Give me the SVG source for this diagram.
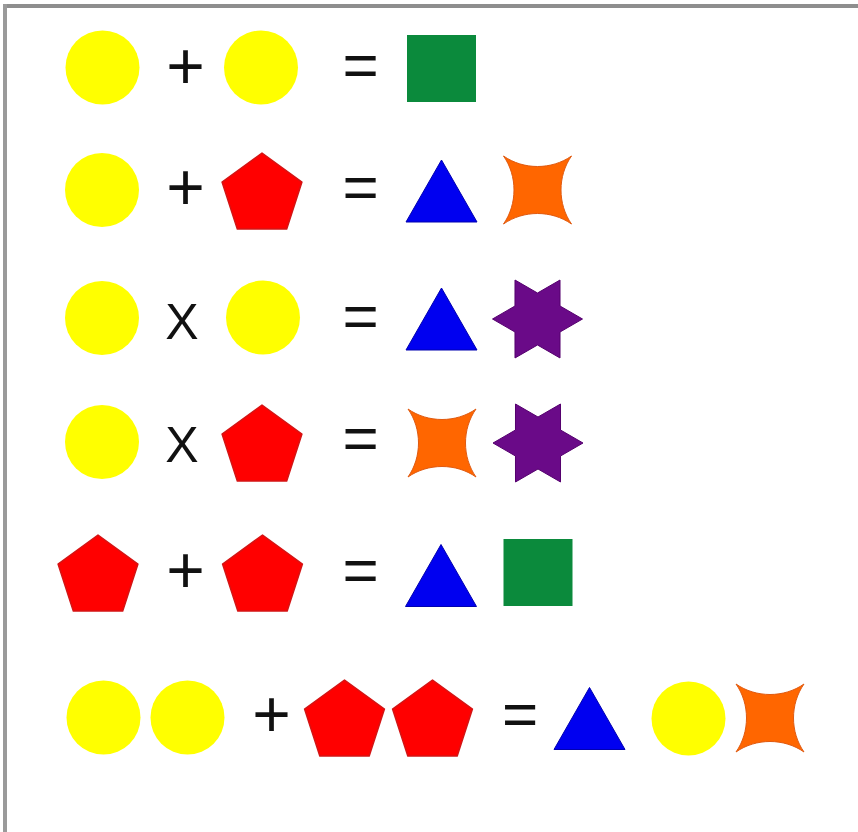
<svg xmlns="http://www.w3.org/2000/svg" xmlns:xlink="http://www.w3.org/1999/xlink" width="858" height="832" viewBox="0 0 858 832">
  <style>
    .op { font-family: "Liberation Sans", Arial, sans-serif; fill: #111111; text-anchor: middle; }
    .plus { font-size: 66px; }
    .eq { font-size: 62px; }
    .times { font-size: 50px; }
  </style>
  <defs>
    <circle id="yc" r="37" fill="#ffff00"/>
    <polygon id="pent" points="0,-42 39.94,-12.98 24.69,33.98 -24.69,33.98 -39.94,-12.98" fill="#ff0000" stroke="#d41414" stroke-width="1.5" stroke-linejoin="round"/>
    <polygon id="tri" points="0,-31 35.5,31 -35.5,31" fill="#0000f0" stroke="#0000b0" stroke-width="1"/>
    <path id="ostar" d="M-34,-34 C-14,-20 14,-20 34,-34 C20,-14 20,14 34,34 C14,20 -14,20 -34,34 C-20,14 -20,-14 -34,-34 Z" fill="#ff6600" stroke="#e05a10" stroke-width="1"/>
    <polygon id="pstar" points="45,0 22.52,13 22.5,38.97 0,26 -22.5,38.97 -22.52,13 -45,0 -22.52,-13 -22.5,-38.97 0,-26 22.5,-38.97 22.52,-13" fill="#6a0a88" stroke="#55006e" stroke-width="1"/>
    <rect id="gsq" x="-34.5" y="-33.5" width="69" height="67" fill="#0b8a3c"/>
  </defs>

  <rect x="0" y="0" width="858" height="832" fill="#ffffff"/>
  <g id="frame">
    <line x1="3" y1="6" x2="858" y2="6" stroke="#8e8e8e" stroke-width="4"/>
    <line x1="5" y1="4" x2="5" y2="832" stroke="#9a9a9a" stroke-width="4"/>
  </g>

  <g id="row1">
    <use id="r1-c1" href="#yc" x="102.5" y="67.5"/>
    <text id="r1-op" class="op plus" x="185.5" y="89">+</text>
    <use id="r1-c2" href="#yc" x="261" y="67.5"/>
    <text id="r1-eq" class="op eq" x="360.5" y="86">=</text>
    <use id="r1-sq" href="#gsq" x="441.5" y="68.5"/>
  </g>

  <g id="row2">
    <use id="r2-c1" href="#yc" x="102" y="190"/>
    <text id="r2-op" class="op plus" x="185.5" y="210">+</text>
    <use id="r2-p1" href="#pent" x="262" y="195"/>
    <text id="r2-eq" class="op eq" x="360.5" y="208">=</text>
    <use id="r2-t" href="#tri" x="441.5" y="191"/>
    <use id="r2-s" href="#ostar" x="537.5" y="190"/>
  </g>

  <g id="row3">
    <use id="r3-c1" href="#yc" x="102" y="318"/>
    <text id="r3-op" class="op times" x="182" y="338.5">X</text>
    <use id="r3-c2" href="#yc" x="263" y="317.5"/>
    <text id="r3-eq" class="op eq" x="360.5" y="337">=</text>
    <use id="r3-t" href="#tri" x="441.5" y="319"/>
    <use id="r3-s" href="#pstar" x="537.5" y="319"/>
  </g>

  <g id="row4">
    <use id="r4-c1" href="#yc" x="102" y="442"/>
    <text id="r4-op" class="op times" x="182" y="462">X</text>
    <use id="r4-p1" href="#pent" x="262" y="447"/>
    <text id="r4-eq" class="op eq" x="360.5" y="459">=</text>
    <use id="r4-s1" href="#ostar" x="442" y="443"/>
    <use id="r4-s2" href="#pstar" x="538" y="443"/>
  </g>

  <g id="row5">
    <use id="r5-p1" href="#pent" x="98" y="577"/>
    <text id="r5-op" class="op plus" x="185.5" y="593">+</text>
    <use id="r5-p2" href="#pent" x="262.5" y="577"/>
    <text id="r5-eq" class="op eq" x="360.5" y="591">=</text>
    <use id="r5-t" href="#tri" x="441" y="575.5"/>
    <use id="r5-sq" href="#gsq" x="538" y="572.5"/>
  </g>

  <g id="row6">
    <use id="r6-c1" href="#yc" x="103.5" y="717.5"/>
    <use id="r6-c2" href="#yc" x="187.5" y="717.5"/>
    <text id="r6-op" class="op plus" x="271.5" y="737">+</text>
    <use id="r6-p1" href="#pent" x="344.5" y="722"/>
    <use id="r6-p2" href="#pent" x="432.5" y="722"/>
    <text id="r6-eq" class="op eq" x="520" y="735">=</text>
    <use id="r6-t" href="#tri" x="589.5" y="718.5"/>
    <use id="r6-c3" href="#yc" x="688.5" y="718.5"/>
    <use id="r6-s" href="#ostar" x="770" y="718"/>
  </g>
</svg>
